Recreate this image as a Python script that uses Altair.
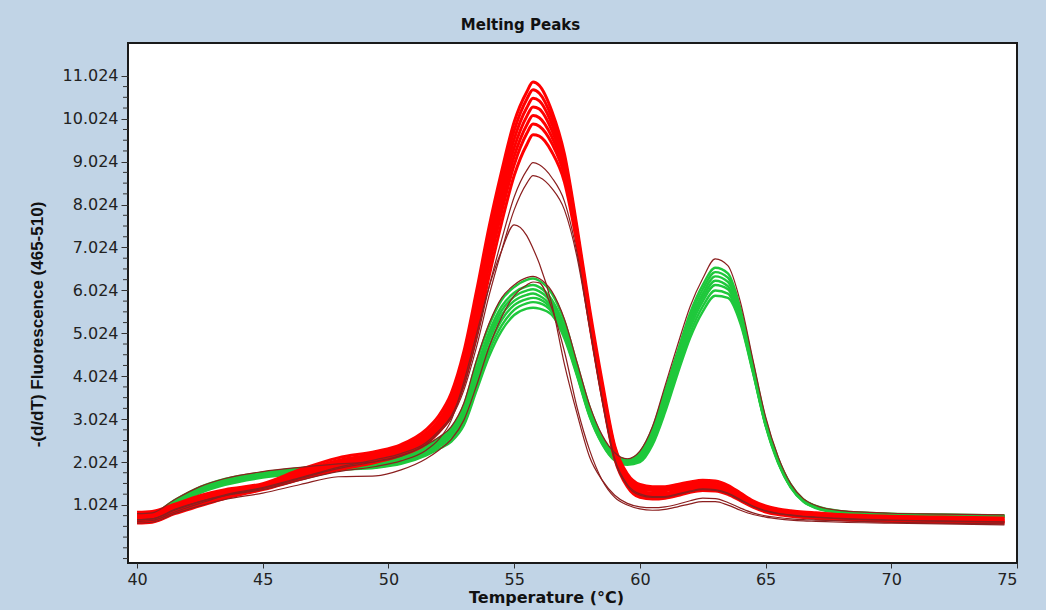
import altair as alt
import pandas as pd

# ---- data ----
temps = [40, 40.6, 41.5, 42.5, 43.5, 45, 46.5, 48, 49.5, 50.5, 51.5, 52, 52.5, 53, 53.5, 54,
         54.5, 55, 55.5, 55.75, 56, 56.5, 57, 57.5, 58, 58.5, 59, 59.5, 60, 60.5, 61, 61.5,
         62, 62.5, 63, 63.5, 64, 64.5, 65, 65.5, 66, 66.5, 67, 68, 70, 72, 74.5]

red_1 = [0.85, 0.87, 1.04, 1.24, 1.38, 1.52, 1.85, 2.12, 2.27, 2.43, 2.78, 3.1, 3.63, 4.6, 6.0, 7.5, 8.8, 9.95, 10.65, 10.88, 10.8, 10.2, 9.2, 7.5, 5.6, 3.9, 2.4, 1.75, 1.5, 1.45, 1.45, 1.5, 1.56, 1.6, 1.58, 1.48, 1.3, 1.12, 1.0, 0.93, 0.89, 0.86, 0.84, 0.8, 0.76, 0.74, 0.72]
red_2 = [0.8, 0.82, 1.0, 1.2, 1.35, 1.49, 1.8, 2.06, 2.22, 2.38, 2.7, 3.0, 3.5, 4.4, 5.8, 7.3, 8.6, 9.75, 10.48, 10.7, 10.62, 10.05, 9.1, 7.4, 5.5, 3.8, 2.35, 1.7, 1.45, 1.4, 1.4, 1.45, 1.52, 1.56, 1.55, 1.45, 1.27, 1.1, 0.98, 0.91, 0.87, 0.84, 0.82, 0.78, 0.74, 0.72, 0.7]
red_3 = [0.75, 0.77, 0.96, 1.16, 1.31, 1.47, 1.76, 2.02, 2.18, 2.34, 2.65, 2.95, 3.42, 4.3, 5.65, 7.1, 8.4, 9.55, 10.28, 10.5, 10.44, 9.9, 9.0, 7.35, 5.45, 3.75, 2.3, 1.65, 1.4, 1.36, 1.36, 1.41, 1.48, 1.52, 1.5, 1.4, 1.23, 1.06, 0.95, 0.88, 0.84, 0.81, 0.79, 0.76, 0.72, 0.7, 0.68]
red_4 = [0.7, 0.72, 0.92, 1.12, 1.28, 1.44, 1.72, 1.97, 2.14, 2.3, 2.6, 2.9, 3.35, 4.2, 5.5, 6.95, 8.25, 9.35, 10.08, 10.3, 10.25, 9.75, 8.9, 7.3, 5.4, 3.7, 2.25, 1.6, 1.35, 1.3, 1.3, 1.36, 1.44, 1.48, 1.46, 1.36, 1.2, 1.04, 0.93, 0.86, 0.82, 0.79, 0.77, 0.74, 0.7, 0.68, 0.66]
red_5 = [0.66, 0.68, 0.88, 1.08, 1.25, 1.42, 1.68, 1.92, 2.1, 2.26, 2.55, 2.85, 3.28, 4.1, 5.35, 6.8, 8.05, 9.15, 9.88, 10.1, 10.05, 9.6, 8.8, 7.25, 5.35, 3.65, 2.2, 1.55, 1.3, 1.25, 1.26, 1.32, 1.4, 1.44, 1.42, 1.33, 1.17, 1.01, 0.9, 0.84, 0.8, 0.77, 0.75, 0.72, 0.68, 0.66, 0.64]
red_6 = [0.62, 0.64, 0.84, 1.04, 1.22, 1.4, 1.65, 1.88, 2.06, 2.22, 2.5, 2.8, 3.2, 4.0, 5.2, 6.6, 7.85, 8.95, 9.68, 9.9, 9.85, 9.45, 8.7, 7.2, 5.3, 3.6, 2.15, 1.5, 1.25, 1.2, 1.22, 1.28, 1.36, 1.4, 1.38, 1.3, 1.14, 0.99, 0.88, 0.82, 0.78, 0.75, 0.73, 0.7, 0.66, 0.64, 0.62]
red_7 = [0.6, 0.62, 0.82, 1.0, 1.18, 1.38, 1.62, 1.84, 2.02, 2.18, 2.45, 2.72, 3.1, 3.85, 5.0, 6.35, 7.6, 8.7, 9.42, 9.65, 9.62, 9.25, 8.55, 7.1, 5.25, 3.55, 2.1, 1.45, 1.2, 1.16, 1.18, 1.24, 1.32, 1.36, 1.35, 1.27, 1.12, 0.97, 0.86, 0.8, 0.76, 0.73, 0.71, 0.68, 0.64, 0.62, 0.6]

dark_1 = [0.68, 0.7, 0.9, 1.1, 1.26, 1.43, 1.66, 1.9, 2.08, 2.22, 2.48, 2.75, 3.1, 3.8, 4.85, 6.1, 7.2, 8.2, 8.82, 9.0, 8.95, 8.65, 8.1, 6.9, 5.2, 3.5, 2.1, 1.5, 1.28, 1.22, 1.22, 1.28, 1.35, 1.4, 1.38, 1.3, 1.15, 1.0, 0.89, 0.83, 0.79, 0.76, 0.74, 0.71, 0.67, 0.65, 0.63]
dark_2 = [0.64, 0.66, 0.86, 1.06, 1.24, 1.41, 1.64, 1.87, 2.04, 2.18, 2.44, 2.7, 3.05, 3.7, 4.7, 5.9, 6.95, 7.9, 8.52, 8.7, 8.66, 8.4, 7.9, 6.8, 5.15, 3.45, 2.05, 1.47, 1.25, 1.2, 1.2, 1.26, 1.33, 1.38, 1.36, 1.28, 1.13, 0.98, 0.88, 0.82, 0.78, 0.75, 0.73, 0.7, 0.66, 0.64, 0.62]
dark_3 = [0.68, 0.7, 0.92, 1.1, 1.24, 1.38, 1.6, 1.8, 1.92, 2.05, 2.3, 2.55, 3.0, 3.9, 5.0, 6.1, 6.95, 7.55, 7.3, 7.0, 6.65, 5.7, 4.3, 3.15, 2.14, 1.6, 1.25, 1.06, 0.98, 0.96, 0.98, 1.04, 1.12, 1.18, 1.17, 1.08, 0.95, 0.84, 0.77, 0.73, 0.7, 0.68, 0.67, 0.65, 0.62, 0.6, 0.58]
dark_4 = [0.6, 0.62, 0.82, 1.0, 1.15, 1.3, 1.5, 1.68, 1.7, 1.84, 2.1, 2.3, 2.55, 3.0, 3.8, 4.7, 5.4, 5.9, 6.15, 6.22, 6.2, 5.6, 4.6, 3.3, 2.3, 1.6, 1.2, 1.02, 0.93, 0.9, 0.92, 0.98, 1.05, 1.1, 1.1, 1.02, 0.9, 0.8, 0.74, 0.7, 0.67, 0.65, 0.64, 0.62, 0.6, 0.58, 0.56]
dark_5 = [0.82, 0.84, 1.15, 1.45, 1.64, 1.8, 1.9, 1.98, 2.03, 2.16, 2.42, 2.6, 2.85, 3.4, 4.4, 5.25, 5.85, 6.15, 6.32, 6.35, 6.3, 6.0, 5.35, 4.35, 3.35, 2.65, 2.24, 2.1, 2.28, 2.85, 3.8, 4.75, 5.65, 6.3, 6.76, 6.6, 5.75, 4.4, 3.08, 2.15, 1.52, 1.17, 1.01, 0.89, 0.83, 0.81, 0.79]

green_1 = [0.8, 0.82, 1.14, 1.44, 1.63, 1.78, 1.88, 1.96, 2.01, 2.14, 2.4, 2.58, 2.82, 3.35, 4.35, 5.2, 5.8, 6.1, 6.27, 6.3, 6.25, 5.95, 5.3, 4.3, 3.3, 2.6, 2.2, 2.08, 2.25, 2.8, 3.7, 4.6, 5.5, 6.15, 6.55, 6.42, 5.6, 4.3, 3.0, 2.1, 1.5, 1.15, 1.0, 0.88, 0.82, 0.8, 0.78]
green_2 = [0.76, 0.78, 1.11, 1.41, 1.6, 1.76, 1.86, 1.94, 1.99, 2.1, 2.36, 2.54, 2.76, 3.25, 4.2, 5.05, 5.65, 5.97, 6.12, 6.15, 6.1, 5.8, 5.18, 4.2, 3.22, 2.55, 2.17, 2.06, 2.22, 2.75, 3.62, 4.52, 5.42, 6.05, 6.45, 6.32, 5.52, 4.25, 2.97, 2.08, 1.48, 1.14, 0.99, 0.87, 0.81, 0.79, 0.77]
green_3 = [0.74, 0.76, 1.08, 1.38, 1.57, 1.74, 1.84, 1.92, 1.97, 2.08, 2.33, 2.5, 2.72, 3.18, 4.1, 4.95, 5.55, 5.88, 6.02, 6.05, 6.0, 5.72, 5.1, 4.15, 3.18, 2.52, 2.14, 2.04, 2.18, 2.7, 3.55, 4.45, 5.33, 5.95, 6.35, 6.22, 5.45, 4.2, 2.93, 2.05, 1.46, 1.13, 0.98, 0.86, 0.8, 0.78, 0.76]
green_4 = [0.72, 0.74, 1.06, 1.36, 1.55, 1.72, 1.82, 1.9, 1.95, 2.05, 2.3, 2.46, 2.68, 3.1, 4.0, 4.85, 5.45, 5.78, 5.92, 5.95, 5.9, 5.64, 5.02, 4.1, 3.14, 2.5, 2.12, 2.02, 2.15, 2.65, 3.48, 4.38, 5.25, 5.86, 6.25, 6.12, 5.38, 4.15, 2.9, 2.03, 1.45, 1.12, 0.97, 0.86, 0.8, 0.78, 0.76]
green_5 = [0.7, 0.72, 1.04, 1.34, 1.53, 1.7, 1.8, 1.88, 1.93, 2.02, 2.26, 2.42, 2.62, 3.02, 3.88, 4.72, 5.33, 5.68, 5.82, 5.85, 5.82, 5.58, 4.98, 4.08, 3.12, 2.48, 2.1, 2.0, 2.1, 2.58, 3.38, 4.28, 5.15, 5.77, 6.15, 6.05, 5.35, 4.15, 2.9, 2.03, 1.45, 1.12, 0.97, 0.86, 0.8, 0.78, 0.76]
green_6 = [0.68, 0.7, 1.02, 1.32, 1.51, 1.68, 1.78, 1.86, 1.91, 2.0, 2.22, 2.38, 2.56, 2.95, 3.78, 4.6, 5.2, 5.57, 5.72, 5.75, 5.73, 5.52, 4.95, 4.06, 3.1, 2.46, 2.08, 1.98, 2.06, 2.5, 3.28, 4.18, 5.03, 5.65, 6.02, 5.95, 5.3, 4.12, 2.88, 2.02, 1.44, 1.11, 0.96, 0.85, 0.79, 0.77, 0.75]
green_7 = [0.66, 0.68, 1.0, 1.3, 1.49, 1.66, 1.76, 1.84, 1.89, 1.98, 2.18, 2.33, 2.5, 2.88, 3.68, 4.48, 5.08, 5.45, 5.6, 5.62, 5.6, 5.45, 4.9, 4.03, 3.08, 2.44, 2.06, 1.96, 2.02, 2.42, 3.18, 4.08, 4.92, 5.53, 5.9, 5.85, 5.25, 4.1, 2.87, 2.0, 1.43, 1.1, 0.95, 0.84, 0.78, 0.76, 0.74]

x_ticks = [40, 45, 50, 55, 60, 65, 70, 75]
y_ticks = [1.024, 2.024, 3.024, 4.024, 5.024, 6.024, 7.024, 8.024, 9.024, 10.024, 11.024]
y_minor_ticks = [-0.226, 0.024, 0.274, 0.524, 0.774, 1.274, 1.524, 1.774, 2.274, 2.524, 2.774,
                 3.274, 3.524, 3.774, 4.274, 4.524, 4.774, 5.274, 5.524, 5.774, 6.274, 6.524,
                 6.774, 7.274, 7.524, 7.774, 8.274, 8.524, 8.774, 9.274, 9.524, 9.774, 10.274,
                 10.524, 10.774]

curves = {
    "green": [green_1, green_2, green_3, green_4, green_5, green_6, green_7],
    "red": [red_1, red_2, red_3, red_4, red_5, red_6, red_7],
    "dark": [dark_1, dark_2, dark_3, dark_4, dark_5],
}

rows = []
for group, lst in curves.items():
    for i, vals in enumerate(lst):
        assert len(vals) == len(temps), (group, i, len(vals))
        for t, v in zip(temps, vals):
            rows.append({"T": t, "v": v, "curve": f"{group}_{i}", "group": group})
df = pd.DataFrame(rows)

XD = [39.64, 75]
YD = [-0.33, 11.79]

x_scale = alt.Scale(domain=XD, nice=False, zero=False)
y_scale = alt.Scale(domain=YD, nice=False, zero=False)

x_axis = alt.Axis(values=x_ticks, format="d", grid=False, domain=False,
                  tickSize=5, tickColor="#333333", labelPadding=3,
                  labelFont="DejaVu Sans", labelFontSize=16, labelColor="#222222",
                  title="Temperature (°C)", titleFont="DejaVu Sans",
                  titleFontSize=16, titleFontWeight="bold", titleColor="#111111",
                  titleX=418, titleY=39, titleBaseline="alphabetic",
                  titleAlign="center")
y_axis = alt.Axis(values=y_ticks, format=".3f", grid=False, domain=False,
                  tickSize=7, tickColor="#333333", labelPadding=3,
                  labelFont="DejaVu Sans", labelFontSize=16, labelColor="#222222",
                  title="-(d/dT) Fluorescence (465-510)",
                  titleFont="Liberation Sans", titleFontSize=17,
                  titleFontWeight="bold", titleColor="#111111",
                  titleX=-91, titleY=281, titleAngle=270,
                  titleAlign="center", titleBaseline="middle")

x_enc = alt.X("T:Q", scale=x_scale, axis=x_axis)
y_enc = alt.Y("v:Q", scale=y_scale, axis=y_axis)


def layer(group, color, width):
    return alt.Chart(df).transform_filter(alt.datum.group == group).mark_line(
        interpolate="monotone", color=color, strokeWidth=width
    ).encode(x=x_enc, y=y_enc, detail="curve:N")


green_layer = layer("green", "#1fc83c", 2.4)
red_layer = layer("red", "#ff0000", 3.0)
dark_layer = layer("dark", "#8b1f1f", 1.2)

minor = alt.Chart(pd.DataFrame({"v": y_minor_ticks})).mark_rule(
    color="#333333", strokeWidth=1
).encode(
    y=alt.Y("v:Q", scale=y_scale, axis=y_axis),
    x=alt.value(-5), x2=alt.value(0)
)

chart = alt.layer(green_layer, red_layer, dark_layer, minor).properties(
    width=889, height=520,
    title=alt.TitleParams("Melting Peaks", font="DejaVu Sans", fontSize=15,
                          fontWeight="bold", color="#111111", anchor="middle",
                          dx=-52, offset=10),
    padding={"left": 128, "top": 43, "right": 29, "bottom": 47},
    autosize=alt.AutoSizeParams(type="none"),
    background="#c1d4e6",
).configure_view(fill="white", stroke="#1a1a1a", strokeWidth=2)

chart.save("out.html", embed_options={"renderer": "svg", "actions": False})
